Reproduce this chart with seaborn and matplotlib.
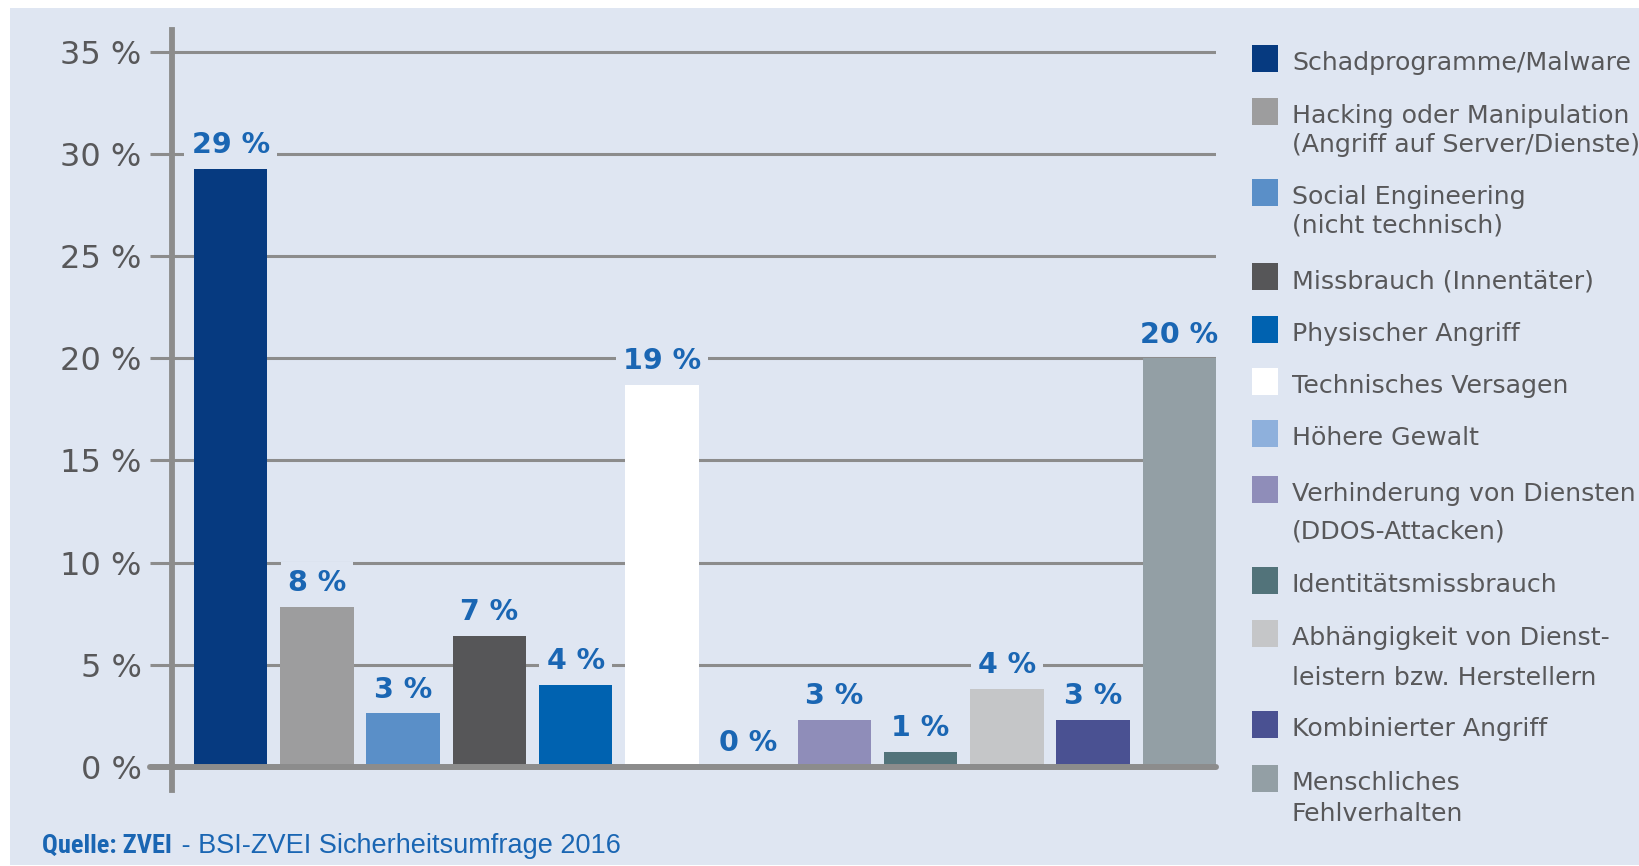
import matplotlib
matplotlib.use("Agg")
import matplotlib.pyplot as plt
from matplotlib.patches import Rectangle
import pandas as pd
import seaborn as sns

# Daten
kategorien = [
    "Schadprogramme/Malware",
    "Hacking oder Manipulation\n(Angriff auf Server/Dienste)",
    "Social Engineering\n(nicht technisch)",
    "Missbrauch (Innentäter)",
    "Physischer Angriff",
    "Technisches Versagen",
    "Höhere Gewalt",
    "Verhinderung von Diensten\n(DDOS-Attacken)",
    "Identitätsmissbrauch",
    "Abhängigkeit von Dienst-\nleistern bzw. Herstellern",
    "Kombinierter Angriff",
    "Menschliches\nFehlverhalten",
]
werte = [29.3, 7.8, 2.6, 6.4, 4.0, 18.7, 0.0, 2.3, 0.7, 3.8, 2.3, 20.0]
beschriftung = [29, 8, 3, 7, 4, 19, 0, 3, 1, 4, 3, 20]
farben = ["#063a80", "#9d9d9e", "#5a8fc8", "#565658", "#0062b0", "#ffffff",
          "#8eb0dc", "#8f8db9", "#52737a", "#c5c6c8", "#4a5192", "#939fa5"]
y_ticks = [0, 5, 10, 15, 20, 25, 30, 35]

W, H = 1639, 866
BG = "#dfe6f2"
GRID = "#8c8c8c"
BLAU = "#1a66b3"
TEXT = "#58585a"

sns.set_style("white")
plt.rcParams["font.family"] = ["DejaVu Sans"]

df = pd.DataFrame({"kategorie": kategorien, "wert": werte})

fig = plt.figure(figsize=(W / 100, H / 100), dpi=100, facecolor="white")
fig.patches.append(Rectangle((10 / W, 1 / H), 1, (H - 9) / H, transform=fig.transFigure,
                             facecolor=BG, edgecolor="none", zorder=-10))

ax = fig.add_axes([172 / W, 76 / H, (1216 - 172) / W, 760 / H])
ax.set_facecolor("none")

sns.barplot(data=df, x="kategorie", y="wert", hue="kategorie", palette=farben,
            legend=False, width=0.85, saturation=1, ax=ax, zorder=2,
            linewidth=0, edgecolor="none")

ax.set_xlim(-0.68, len(werte) - 1 + 0.425)
ax.set_ylim(-1.15, 36.1)
ax.set_yticks(y_ticks)
ax.set_yticklabels([f"{t} %" for t in y_ticks])
ax.set_xticks([])
ax.set_xlabel("")
ax.set_ylabel("")

ax.set_axisbelow(True)
ax.yaxis.grid(True, color=GRID, lw=2.2)
ax.xaxis.grid(False)
ax.tick_params(axis="y", length=16, width=2.2, color=GRID, labelsize=23,
               labelcolor=TEXT, pad=6, left=True)
for s in ["top", "right", "bottom"]:
    ax.spines[s].set_visible(False)
ax.spines["left"].set_color(GRID)
ax.spines["left"].set_linewidth(4.2)
ax.spines["left"].set_zorder(5)

# dicke Nulllinie
ax.axhline(0, xmin=-22 / 1044, xmax=1, color=GRID, lw=4.3, zorder=4, clip_on=False)

# Wertbeschriftungen
for i, (v, lab) in enumerate(zip(werte, beschriftung)):
    ax.annotate(f"{lab} %", (i, v), xytext=(0, 11.5), textcoords="offset points",
                ha="center", va="baseline", fontsize=20.5, fontweight="bold", color=BLAU,
                bbox=dict(boxstyle="square,pad=0.25", facecolor=BG, edgecolor="none"),
                zorder=6)

# Legende (manuell)
legende_y = [70, 123, 204, 288, 341, 393, 445, 501, 592, 645, 736, 790]
zeile2_abstand = {1: 29, 2: 29, 7: 37, 9: 40, 11: 31}
for i, (name, farbe) in enumerate(zip(kategorien, farben)):
    yb = legende_y[i]
    fig.patches.append(Rectangle((1252 / W, 1 - (yb + 2) / H), 26 / W, 27 / H,
                                 transform=fig.transFigure, facecolor=farbe,
                                 edgecolor="none", zorder=3))
    zeilen = name.split("\n")
    fig.text(1292 / W, 1 - yb / H, zeilen[0], fontsize=18.2, color=TEXT, va="baseline")
    if len(zeilen) > 1:
        y2 = yb + zeile2_abstand[i]
        fig.text(1292 / W, 1 - y2 / H, zeilen[1], fontsize=18.2, color=TEXT, va="baseline")

# Quelle
t1 = fig.text(42 / W, 1 - 853 / H, "Quelle: ZVEI", fontsize=19, fontweight="bold",
              color=BLAU, va="baseline",
              family=["Liberation Sans Narrow", "Roboto Condensed", "Roboto", "DejaVu Sans"])
fig.canvas.draw()
bb = t1.get_window_extent()
fig.text((bb.x1 + 2) / W, 1 - 853 / H, " - BSI-ZVEI Sicherheitsumfrage 2016", fontsize=19.5,
         color=BLAU, va="baseline", family=["Liberation Sans", "DejaVu Sans"])

fig.savefig("out.png", dpi=100, facecolor="white")
